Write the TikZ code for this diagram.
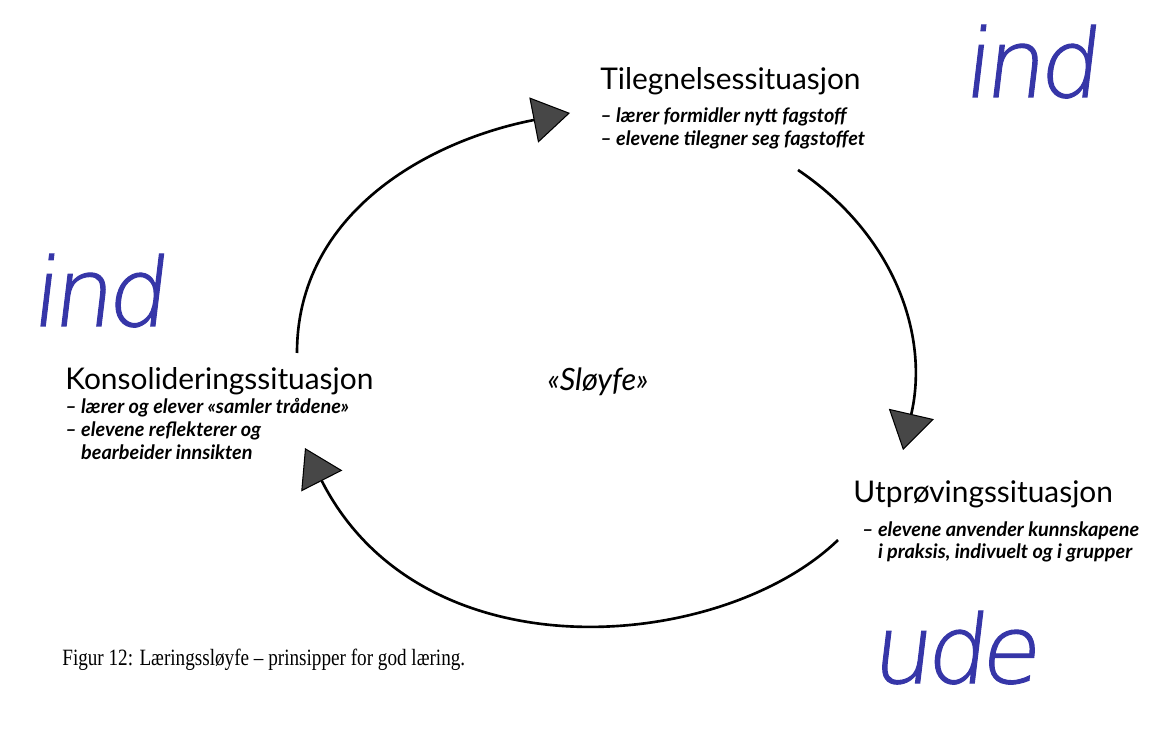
\documentclass[tikz,border=0pt]{standalone}
\usepackage{fontspec}
\usepackage{tikz}
\usetikzlibrary{arrows.meta,positioning}
\newfontfamily\gillfont{Lato}
\newfontfamily\capfont[FakeStretch=0.82]{Liberation Serif}
\IfFontExistsTF{DejaVu Sans ExtraLight}
  {\newfontfamily\handfont[FakeSlant=0.12,FakeBold=1.2,LetterSpace=-6]{DejaVu Sans ExtraLight}}
  {\newfontfamily\handfont[FakeSlant=0.12,LetterSpace=-6]{DejaVu Sans}}
\definecolor{LoopGrey}{HTML}{474747}
\definecolor{InkBlue}{HTML}{3636A8}

\begin{document}
\begin{tikzpicture}[
  x=0.02cm,y=-0.02cm,
  head/.style={font=\gillfont\fontsize{17}{20}\selectfont,inner sep=0pt,anchor=north west},
  items/.style={font=\gillfont\bfseries\itshape\fontsize{11.3}{13}\selectfont,inner sep=0pt,
    align=left},
  loop/.style={-{Triangle[length=0.74cm,width=0.92cm,fill=LoopGrey,line width=0.6pt]},
    line width=1.5pt},
  hand/.style={font=\handfont\fontsize{54}{54}\selectfont,text=InkBlue,
    inner sep=0pt,anchor=base west}
]
  \useasboundingbox (0,0) rectangle (1149,739);

  \node[head] (til) at (600,67) {Tilegnelsessituasjon};
  \node[items,below=2.4mm of til.south west,anchor=north west] (tilItems)
    {– lærer formidler nytt fagstoff\\– elevene tilegner seg fagstoffet};

  \node[head] (utp) at (853,480) {Utprøvingssituasjon};
  \node[items,below=2.6mm of utp.south west,anchor=north west,xshift=5pt] (utpItems)
    {– elevene anvender kunnskapene\\\phantom{– }i praksis, indivuelt og i grupper};

  \node[head] (kons) at (65,367) {Konsolideringssituasjon};
  \node[items,below=0.6mm of kons.south west,anchor=north west] (konsItems)
    {– lærer og elever «samler trådene»\\– elevene reflekterer og\\\phantom{– }bearbeider innsikten};

  \node[font=\gillfont\itshape\fontsize{17.5}{20}\selectfont] (sloyfe) at (598,382) {«Sløyfe»};

  \node[font=\capfont\fontsize{13.3}{15}\selectfont,inner sep=0pt,anchor=base west] (caption)
    at (62,665) {Figur 12: Læringssløyfe – prinsipper for god læring.};

  \node[hand] (indTop) at (962,97) {ind};
  \node[hand] (indLeft) at (30,326) {ind};
  \node[hand] (ude) at (870,683) {ude};

  \coordinate (konsOut) at (297,353);
  \coordinate (tilIn) at (570,113);
  \coordinate (tilOut) at (798,170);
  \coordinate (utpIn) at (903,450);
  \coordinate (utpOut) at (838,540);
  \coordinate (konsIn) at (305,448);

  \draw[loop] (konsOut) to[out=90,in=191] (tilIn);
  \draw[loop] (tilOut) to[out=-34,in=77] (utpIn);
  \draw[loop] (utpOut) to[out=224,in=-63,out distance=3.2cm,in distance=5.2cm] (konsIn);
\end{tikzpicture}
\end{document}
